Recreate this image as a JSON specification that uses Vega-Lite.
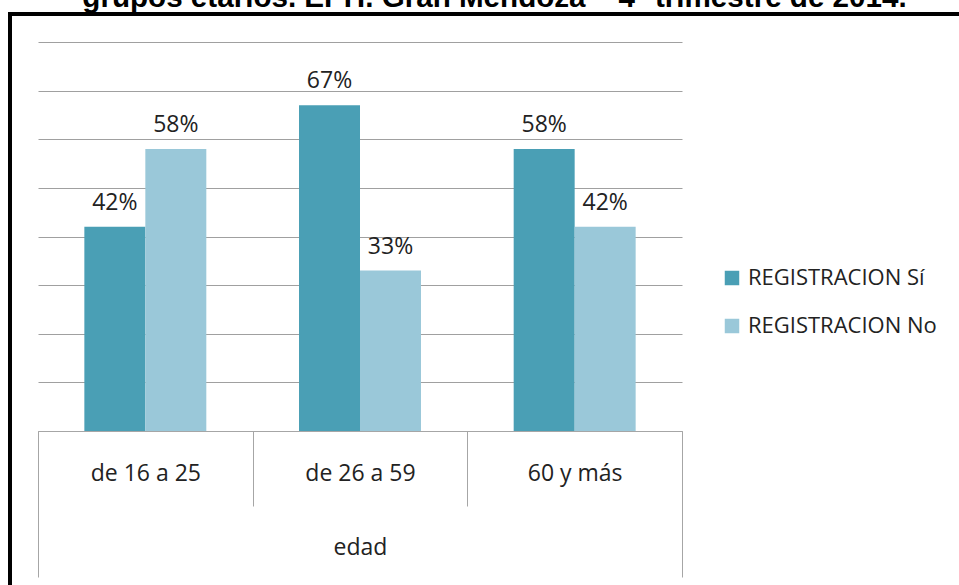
{
  "$schema": "https://vega.github.io/schema/vega-lite/v6.json",
  "width": 969,
  "height": 591,
  "autosize": {"type": "none"},
  "padding": {"left": 10, "top": 14, "right": -20, "bottom": -20},
  "background": "white",
  "title": {
    "text": "grupos etarios. EPH. Gran Mendoza – 4° trimestre de 2014.",
    "font": "Liberation Sans",
    "fontSize": 29.6,
    "fontWeight": "bold",
    "color": "black",
    "anchor": "middle",
    "offset": 0
  },
  "config": {
    "view": {"stroke": "black", "strokeWidth": 4},
    "axis": {"labelFont": "Open Sans", "labelFontSize": 23, "labelColor": "#222222"}
  },
  "data": {
    "values": [
      {"edad": "de 16 a 25", "registracion": "REGISTRACION Sí", "porcentaje": 0.42},
      {"edad": "de 16 a 25", "registracion": "REGISTRACION No", "porcentaje": 0.58},
      {"edad": "de 26 a 59", "registracion": "REGISTRACION Sí", "porcentaje": 0.67},
      {"edad": "de 26 a 59", "registracion": "REGISTRACION No", "porcentaje": 0.33},
      {"edad": "60 y más", "registracion": "REGISTRACION Sí", "porcentaje": 0.58},
      {"edad": "60 y más", "registracion": "REGISTRACION No", "porcentaje": 0.42}
    ]
  },
  "layer": [
    {
      "layer": [
        {
          "mark": {"type": "bar"},
          "encoding": {
            "x": {
              "field": "edad",
              "type": "nominal",
              "sort": ["de 16 a 25", "de 26 a 59", "60 y más"],
              "scale": {"range": [28, 672], "paddingInner": 0, "paddingOuter": 0},
              "axis": {
                "orient": "bottom",
                "offset": -174,
                "title": null,
                "tickBand": "extent",
                "ticks": true,
                "tickSize": 75,
                "tickColor": "#a6a6a6",
                "tickWidth": 1,
                "domain": true,
                "domainColor": "#a6a6a6",
                "domainWidth": 1,
                "labelPadding": -33,
                "labelBaseline": "middle",
                "labelAngle": 0
              }
            },
            "xOffset": {
              "field": "registracion",
              "type": "nominal",
              "sort": ["REGISTRACION Sí", "REGISTRACION No"],
              "scale": {"paddingInner": 0, "paddingOuter": 0.76}
            },
            "y": {
              "field": "porcentaje",
              "type": "quantitative",
              "scale": {"domain": [0, 0.8], "range": [417, 28], "nice": false, "zero": true},
              "axis": {
                "values": [0, 0.1, 0.2, 0.3, 0.4, 0.5, 0.6, 0.7, 0.8],
                "labels": false,
                "ticks": false,
                "domain": false,
                "grid": true,
                "gridColor": "#a0a0a0",
                "gridWidth": 1,
                "title": null
              }
            },
            "color": {
              "field": "registracion",
              "type": "nominal",
              "sort": ["REGISTRACION Sí", "REGISTRACION No"],
              "scale": {"domain": ["REGISTRACION Sí", "REGISTRACION No"], "range": ["#4a9fb5", "#9ac8d9"]},
              "legend": {
                "orient": "none",
                "legendX": 711,
                "legendY": 253,
                "title": null,
                "padding": 0,
                "symbolType": "square",
                "symbolSize": 210,
                "symbolStrokeWidth": 0,
                "labelFont": "Open Sans",
                "labelFontSize": 22,
                "labelColor": "#222222",
                "labelOffset": 5,
                "labelLimit": 400,
                "rowPadding": 26
              }
            }
          }
        },
        {
          "mark": {"type": "text", "baseline": "alphabetic", "dy": -17, "font": "Open Sans", "fontSize": 23, "color": "#222222"},
          "encoding": {
            "x": {"field": "edad", "type": "nominal", "sort": ["de 16 a 25", "de 26 a 59", "60 y más"]},
            "xOffset": {"field": "registracion", "type": "nominal", "sort": ["REGISTRACION Sí", "REGISTRACION No"]},
            "y": {"field": "porcentaje", "type": "quantitative"},
            "text": {"field": "porcentaje", "type": "quantitative", "format": ".0%"}
          }
        }
      ]
    },
    {
      "data": {"values": [{"eje": "edad"}]},
      "mark": {"type": "point", "opacity": 0},
      "encoding": {
        "x": {
          "field": "eje",
          "type": "nominal",
          "scale": {"range": [28, 672], "paddingInner": 0, "paddingOuter": 0},
          "axis": {
            "orient": "bottom",
            "offset": -174,
            "title": null,
            "tickBand": "extent",
            "ticks": true,
            "tickSize": 146,
            "tickColor": "#a6a6a6",
            "tickWidth": 1,
            "domain": false,
            "labelPadding": -30,
            "labelBaseline": "middle",
            "labelAngle": 0
          }
        }
      }
    }
  ],
  "resolve": {"scale": {"x": "independent"}, "axis": {"x": "independent"}}
}
